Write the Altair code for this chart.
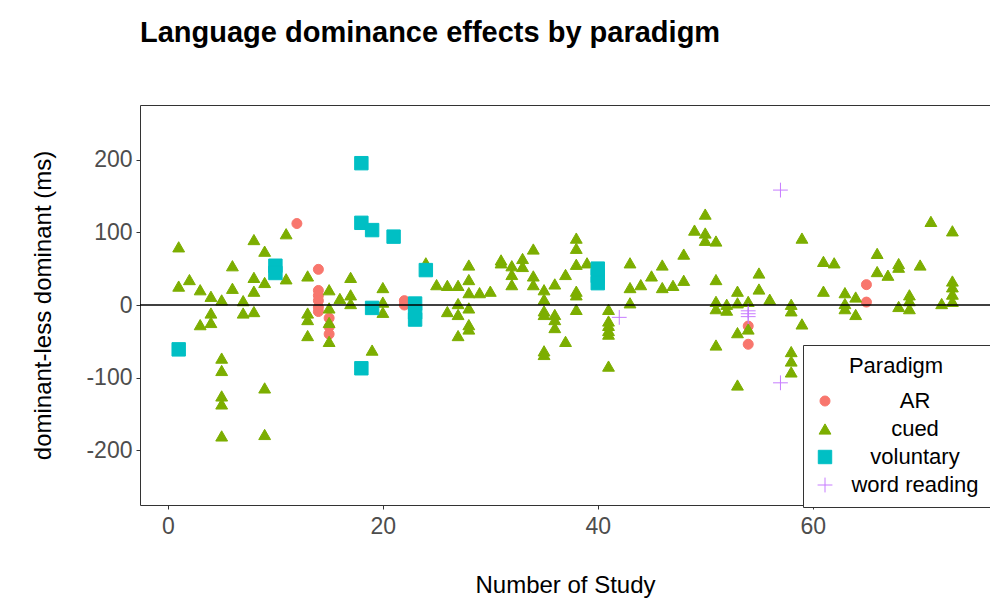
import altair as alt
import pandas as pd

# ---- data ----
ar_study = [12, 14, 14, 14, 14, 14, 14, 15, 15, 15, 22, 22, 54, 54, 65, 65]
ar_ms = [112, 49, 20, 13, 6, -3, -9, -18, -30, -40, 6, 0, -29, -54, 28, 4]

cued_study = [1, 1, 2, 3, 3, 4, 4, 4, 5, 5, 5, 5, 5, 5, 6, 6, 7, 7,
              8, 8, 8, 8, 9, 9, 9, 9, 11, 11, 13, 13, 13, 13, 15, 15, 15, 15,
              16, 17, 17, 17, 19, 20, 20, 20, 24, 25, 26, 26, 27, 27, 27, 27,
              28, 28, 28, 28, 28, 28, 29, 30, 31, 31, 32, 32, 32, 33, 33,
              34, 34, 34, 35, 35, 35, 35, 35, 35, 36, 36, 36, 36, 37, 37,
              38, 38, 38, 38, 38, 38, 39, 41, 41, 41, 41, 41, 41, 43, 43, 43,
              44, 45, 46, 46, 47, 48, 48, 49, 50, 50, 50, 51, 51, 51, 51, 51,
              52, 52, 53, 53, 53, 53, 54, 54, 55, 55, 56, 58, 58, 58, 58, 58,
              59, 59, 61, 61, 62, 63, 63, 63, 64, 64, 66, 66, 67, 68, 68, 68,
              69, 69, 69, 70, 71, 72, 73, 73, 73, 73, 73]
cued_ms = [80, 26, 35, 21, -27, 12, -11, -24, 7, -73, -90, -125, -136, -180, 54, 23, 6, -11,
           90, 38, 19, -9, 74, 31, -114, -178, 98, 36, 40, -11, -20, -42, 21, -4, -24, -50,
           9, 38, 14, 2, -62, 24, 4, -10, 58, 28, 27, -9, 27, 2, -13, -42,
           55, 35, 17, -4, -27, -33, 17, 19, 62, 58, 54, 42, 28, 64, 53,
           77, 40, 28, 21, 8, -8, -13, -63, -68, 29, -13, -20, -31, 42, -50,
           92, 78, 56, 19, 14, -6, 58, -6, -22, -28, -35, -40, -84, 58, 24, 3,
           28, 40, 55, 24, 27, 70, 34, 103, 125, 99, 89, 88, 35, 5, -5, -55,
           1, -7, 19, 3, -38, -110, 5, -33, 44, 22, 8, 1, -8, -64, -77, -92,
           92, -26, 60, 19, 58, 17, 2, -5, 11, -13, 71, 46, 41, 57, 52, -2,
           14, 6, -5, 55, 115, 2, 102, 33, 25, 15, 5]

vol_study = [1, 10, 10, 18, 18, 18, 19, 19, 21, 23, 23, 23, 24, 40, 40, 40]
vol_ms = [-61, 54, 44, 195, 113, -87, 103, -4, 94, 2, -10, -20, 48, 50, 40, 30]

word_study = [42, 54, 54, 54, 57, 57]
word_ms = [-17, -8, -12, -16, 158, -107]

paradigms = ["AR", "cued", "voluntary", "word reading"]
colors = ["#F8766D", "#7CAE00", "#00BFC4", "#C77CFF"]
fills = ["#F8766D", "#7CAE00", "#00BFC4", "transparent"]
shapes = ["circle", "triangle-up", "square", "M-1,0L1,0M0,-1L0,1"]
sizes = [100, 220, 85, 289]

rows = []
for name, xs, ys in [("AR", ar_study, ar_ms), ("cued", cued_study, cued_ms),
                     ("voluntary", vol_study, vol_ms), ("word reading", word_study, word_ms)]:
    for a, b in zip(xs, ys):
        rows.append({"study": a, "ms": b, "Paradigm": name})
df = pd.DataFrame(rows)
zero_df = pd.DataFrame({"ms": [0]})

FONT = "Liberation Sans"

legend = alt.Legend(
    title="Paradigm", orient="none", legendX=663, legendY=240,
    titleFontSize=22, titleFontWeight="normal", titleColor="black", titleFont=FONT,
    titleAnchor="middle", titlePadding=12,
    labelFontSize=22, labelColor="black", labelFont=FONT, labelAlign="center",
    labelOffset=79, labelLimit=300,
    strokeColor="#333333", fillColor="white", padding=11, rowPadding=6,
    symbolStrokeWidth=1, symbolOpacity=1,
)

x_enc = alt.X("study:Q", scale=alt.Scale(domain=[-2.6, 76.5], nice=False, zero=False),
              axis=alt.Axis(values=[0, 20, 40, 60], title="Number of Study", grid=False,
                            labelPadding=6, titlePadding=35))
y_enc = alt.Y("ms:Q", scale=alt.Scale(domain=[-275, 275], nice=False),
              axis=alt.Axis(values=[-200, -100, 0, 100, 200], title="dominant-less dominant (ms)",
                            grid=False, titlePadding=30,
                            labelExpr="datum.value < 0 ? '-' + abs(datum.value) : '' + datum.value"))

points = alt.Chart(df).mark_point(opacity=1, strokeWidth=1).encode(
    x=x_enc,
    y=y_enc,
    fill=alt.Fill("Paradigm:N", scale=alt.Scale(domain=paradigms, range=fills), legend=legend),
    stroke=alt.Stroke("Paradigm:N", scale=alt.Scale(domain=paradigms, range=colors), legend=legend),
    shape=alt.Shape("Paradigm:N", scale=alt.Scale(domain=paradigms, range=shapes), legend=legend),
    size=alt.Size("Paradigm:N", scale=alt.Scale(domain=paradigms, range=sizes), legend=legend),
)

zero_line = alt.Chart(zero_df).mark_rule(color="black", strokeWidth=1.3).encode(y="ms:Q")

chart = alt.layer(points, zero_line).properties(
    width=850, height=400,
    autosize=alt.AutoSizeParams(type="none"),
    padding={"left": 132, "top": 97, "right": 0, "bottom": 94},
    title=alt.TitleParams("Language dominance effects by paradigm", anchor="start", frame="group",
                          fontSize=29, fontWeight="bold", font=FONT, color="black", offset=57),
).configure_axis(
    labelFont=FONT, labelFontSize=23, labelColor="#4D4D4D", labelPadding=4,
    tickColor="#333333", tickSize=4, tickWidth=1, domain=False,
    titleFont=FONT, titleFontSize=24, titleColor="black", titleFontWeight="normal",
).configure_view(
    stroke="#333333", strokeWidth=1,
)

chart.save("out.html", embed_options={"renderer": "svg", "actions": False})
